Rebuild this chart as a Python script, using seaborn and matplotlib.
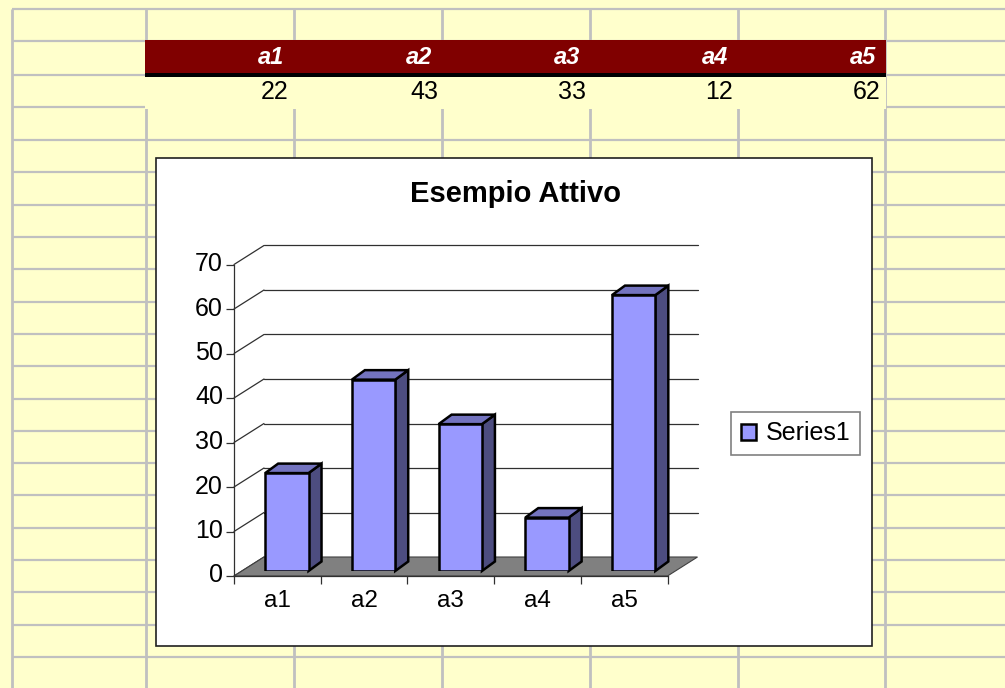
import matplotlib
matplotlib.use('Agg')
import matplotlib.pyplot as plt
from matplotlib.patches import Polygon, Rectangle
from matplotlib.transforms import IdentityTransform, ScaledTranslation, offset_copy
import numpy as np
import pandas as pd
import seaborn as sns

categories = ['a1', 'a2', 'a3', 'a4', 'a5']
values = [22, 43, 33, 12, 62]
y_ticks = [0, 10, 20, 30, 40, 50, 60, 70]
series_name = 'Series1'
title = 'Esempio Attivo'

W, H = 1005, 688
FILL, SIDE, TOP = '#9999FF', '#4D4D80', '#7373BF'
GRID = '#C0C0C0'
PAPER = '#FFFFCC'

sns.set_style('white')
plt.rcParams['font.family'] = ['Liberation Sans', 'DejaVu Sans']
plt.rcParams['text.color'] = 'black'
plt.rcParams['xtick.labelcolor'] = 'black'
plt.rcParams['ytick.labelcolor'] = 'black'
plt.rcParams['hatch.linewidth'] = 0.7
plt.rcParams['hatch.color'] = '#FFFF99'


def make_axes(fig, left, top, right, bottom):
    # pixel box (y from the top) -> figure fractions
    return fig.add_axes([left / W, 1 - bottom / H, (right - left) / W, (bottom - top) / H])


fig = plt.figure(figsize=(W / 100, H / 100), dpi=100)

# the sheet behind the chart
sheet = fig.add_axes([0, 0, 1, 1], zorder=0)
sheet.set_xlim(0, W)
sheet.set_ylim(H, 0)
sheet.axis('off')
sheet.add_patch(Rectangle((0, 0), W, H, fc=PAPER, ec='none'))
row_lines = [9, 41, 75, 107, 140, 172, 205, 237, 269, 302, 334, 366, 399, 431, 463, 495, 528, 560, 592, 625, 657]
col_lines = [11.5, 146, 294, 442, 590, 737.5, 884.5]
sheet.hlines(row_lines, col_lines[0], W, color=GRID, lw=1.6)
sheet.vlines(col_lines, row_lines[0], H, color=GRID, lw=2.0)

# header band and the data row
sheet.add_patch(Rectangle((145, 40), 741, 33, fc='#800000', ec='none', zorder=3))
sheet.add_patch(Rectangle((145, 73), 741, 4, fc='black', ec='none', zorder=3))
sheet.add_patch(Rectangle((145, 77), 741, 32, fc=PAPER, ec='none', hatch='||||||', lw=0, zorder=3))
for cat, val, x_h, x_v in zip(categories, values, [284, 432, 580, 728, 876], [288, 437, 585, 732, 879]):
    sheet.text(x_h, 58, cat, color='white', fontsize=17, fontweight='bold', fontstyle='italic',
               ha='right', va='center', zorder=4)
    sheet.text(x_v + 1, 92, str(val), color='black', fontsize=18, ha='right', va='center', zorder=4)

# chart area
sheet.add_patch(Rectangle((155.5, 158), 716, 488, fc='white', ec='#202020', lw=1.2, zorder=5))
sheet.text(515, 194, title, fontsize=21, fontweight='bold', ha='center', va='center', zorder=6)

# bars sit in the middle of the floor
ax = make_axes(fig, 243.5, 259.5, 677, 571)
ax.set_zorder(2)
ax.patch.set_alpha(0)
df = pd.DataFrame({'cat': categories, 'val': values})
sns.barplot(data=df, x='cat', y='val', ax=ax, color=FILL, saturation=1, width=0.5,
            edgecolor='black', linewidth=1.8, label=series_name, zorder=5, legend=False)
ax.set_xlim(-0.5, 4.5)
ax.set_ylim(0, 70)
ax.axis('off')

# back wall and floor, shifted from the bar plane in pixels
wall = offset_copy(ax.transData, fig=fig, x=20.5, y=14, units='dots')
for t in y_ticks[1:]:
    ax.plot([-0.5, 4.5], [t, t], color='#303030', lw=0.9, transform=wall, clip_on=False, zorder=1)

px = ax.transData.transform
wall_px = wall.transform
corner_f = px((-0.5, 0)) + np.array([-9.5, -5])
corner_g = px((4.5, 0)) + np.array([-9.5, -5])
ax.add_patch(Polygon([corner_f, corner_g, wall_px((4.5, 0)), wall_px((-0.5, 0))], closed=True,
                     fc='#808080', ec='#404040', lw=0.8, transform=IdentityTransform(),
                     clip_on=False, zorder=2))
for t in y_ticks:
    a = px((-0.5, t)) + np.array([-9.5, -5])
    b = wall_px((-0.5, t))
    ax.plot([a[0], b[0]], [a[1], b[1]], color='#303030', lw=0.9, transform=IdentityTransform(),
            clip_on=False, zorder=1)

# side and top of each bar
depth = np.array([13, 9.5])
for bar in ax.containers[0]:
    x0, x1, h = bar.get_x(), bar.get_x() + bar.get_width(), bar.get_height()
    a, b, c = px((x0, h)), px((x1, h)), px((x1, 0))
    ax.add_patch(Polygon([c, b, b + depth, c + depth], closed=True, fc=SIDE, ec='black', lw=1.8,
                         transform=IdentityTransform(), clip_on=False, zorder=4))
    ax.add_patch(Polygon([a, b, b + depth, a + depth], closed=True, fc=TOP, ec='black', lw=1.8,
                         transform=IdentityTransform(), clip_on=False, zorder=4))

# front axes carrying the ticks and their labels
front = make_axes(fig, 234, 264.5, 667.5, 576)
front.set_zorder(3)
front.patch.set_alpha(0)
front.set_xlim(-0.5, 4.5)
front.set_ylim(0, 70)
sns.despine(ax=front)
for side in ['left', 'bottom']:
    front.spines[side].set_color('#303030')
    front.spines[side].set_linewidth(0.9)
front.set_yticks(y_ticks)
front.set_xticks(np.arange(len(categories) + 1) - 0.5)
front.set_xticklabels([])
front.set_xticks(np.arange(len(categories)), labels=categories, minor=True)
front.tick_params(axis='y', left=True, length=6, width=0.9, color='#303030', labelsize=18, pad=2)
front.tick_params(axis='x', which='major', bottom=True, length=6, width=0.9, color='#303030')
front.tick_params(axis='x', which='minor', bottom=False, labelsize=17.5, pad=8)
# y labels sit a little above their ticks
lift = ScaledTranslation(0, 3 / 100, fig.dpi_scale_trans)
for lab in front.get_yticklabels():
    lab.set_transform(lab.get_transform() + lift)

# legend
leg = fig.legend([ax.containers[0][0]], [series_name], loc='center left', fontsize=18,
                 bbox_to_anchor=(731 / W, 1 - 433.5 / H), frameon=True, fancybox=False,
                 edgecolor='#808080', framealpha=1, borderpad=0.38, handlelength=0.6,
                 handleheight=0.6, handletextpad=0.42, borderaxespad=0)
leg.get_frame().set_linewidth(1.2)
leg.set_zorder(10)

fig.savefig('out.png', dpi=100)
